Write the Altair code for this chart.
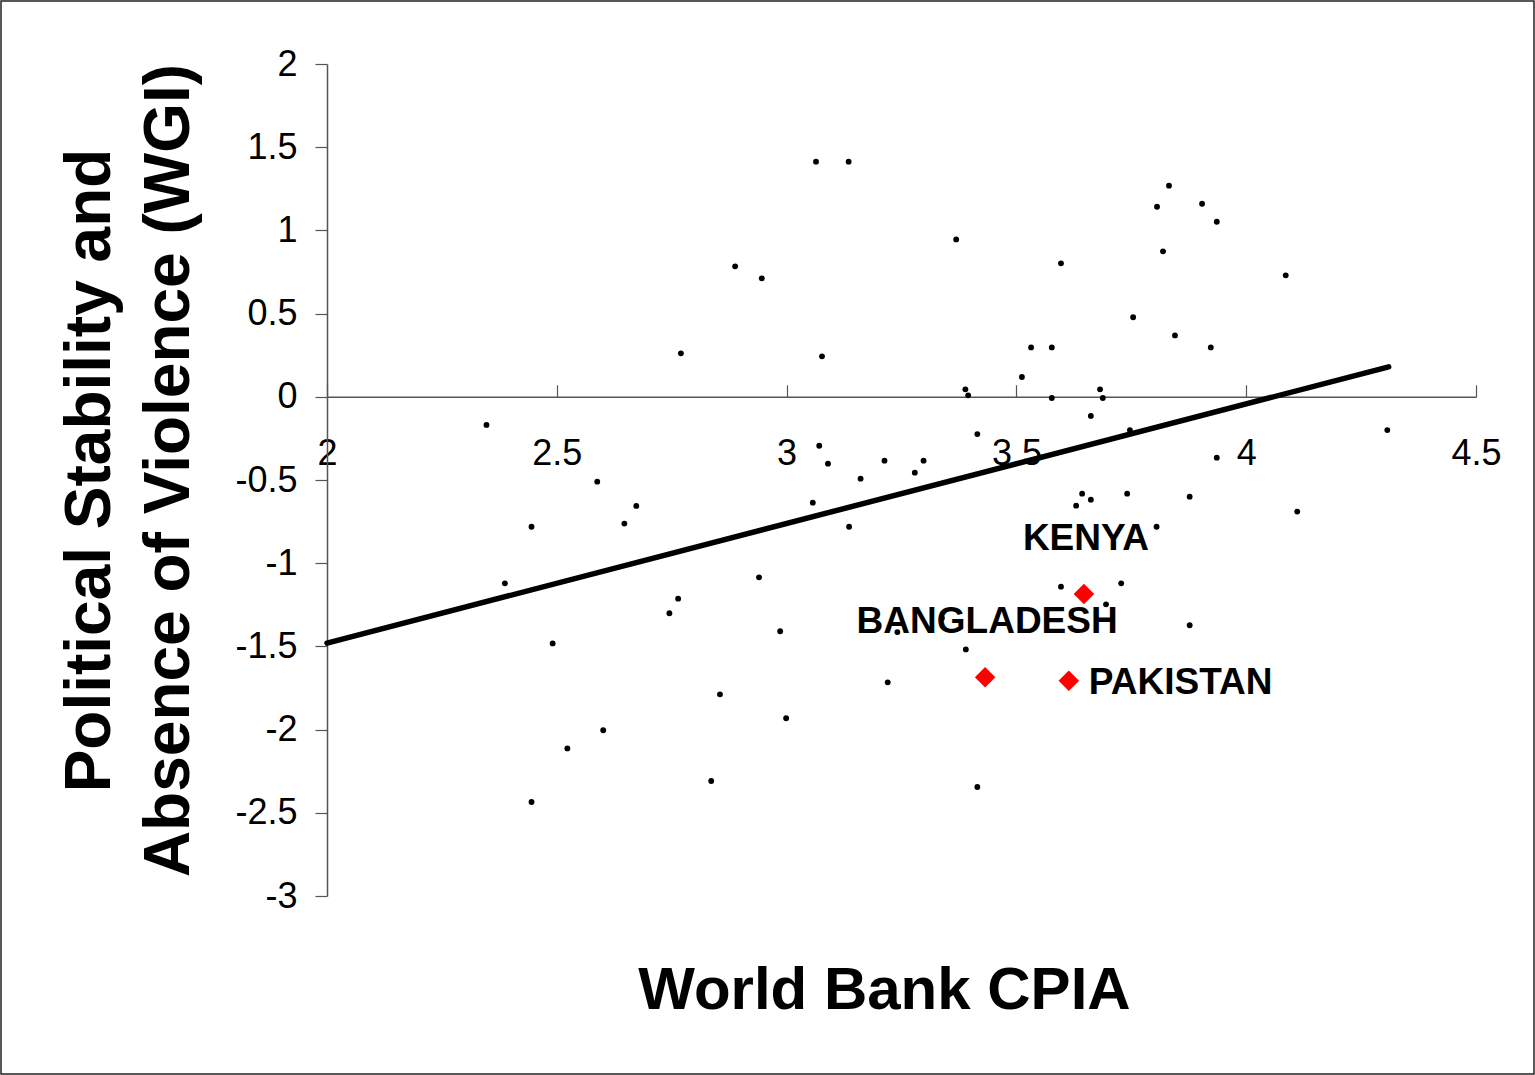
import altair as alt
import pandas as pd

# CPIA score (x) and WGI political-stability score (y) for each country
cpia = [2.770, 2.347, 3.064, 3.135, 3.369, 3.597, 2.888, 2.946, 3.077, 3.532,
        3.577, 3.512, 3.389, 3.395, 3.577, 3.662, 3.682, 3.832, 3.806, 3.904,
        3.936, 3.819, 4.086, 3.754, 3.845, 3.923, 3.688, 3.747, 4.307, 2.588,
        2.673, 2.647, 2.445, 2.387, 2.764, 2.745, 2.491, 2.855, 3.415, 3.071,
        3.090, 3.213, 3.298, 3.279, 3.161, 3.057, 3.136, 3.643, 3.662, 3.630,
        2.940, 3.597, 2.986, 3.390, 3.220, 3.936, 3.741, 3.877, 4.111, 3.805,
        3.728, 3.695, 3.877, 2.601, 2.523, 2.445, 2.836, 2.999, 3.415, 3.241,
        3.338]
wgi = [0.261, -0.169, 1.413, 1.413, 0.946, 0.802, 0.784, 0.712, 0.243, 0.297,
       0.297, 0.119, 0.045, 0.009, -0.007, -0.115, 0.045, 1.269, 1.142, 1.160,
       1.052, 0.874, 0.730, 0.478, 0.369, 0.297, -0.007, -0.200, -0.200, -0.510,
       -0.656, -0.762, -0.781, -1.121, -1.213, -1.301, -1.482, -1.788, -0.224, -0.294,
       -0.402, -0.384, -0.384, -0.456, -0.492, -0.636, -0.781, -0.582, -0.618, -0.654,
       -1.085, -1.141, -1.409, -1.518, -1.716, -0.366, -0.582, -0.600, -0.690, -0.781,
       -1.121, -1.247, -1.373, -2.004, -2.113, -2.435, -2.309, -1.932, -2.345, -1.414,
       -1.330]

# highlighted countries
hl_country = ["KENYA", "BANGLADESH", "PAKISTAN"]
hl_cpia = [3.647, 3.432, 3.614]
hl_wgi = [-1.185, -1.686, -1.706]

# linear trend line end points
trend_cpia = [2.0, 4.31]
trend_wgi = [-1.48, 0.18]

x_ticks = [2, 2.5, 3, 3.5, 4, 4.5]
y_ticks = [2, 1.5, 1, 0.5, 0, -0.5, -1, -1.5, -2, -2.5, -3]

W, H = 1149, 832
FONT = "Liberation Sans"
AXIS_GREY = "#555555"

points = pd.DataFrame({"cpia": cpia, "wgi": wgi})
highlights = pd.DataFrame({"country": hl_country, "cpia": hl_cpia, "wgi": hl_wgi})
trend = pd.DataFrame({"cpia": trend_cpia, "wgi": trend_wgi})

x_scale = alt.Scale(domain=[2, 4.5], nice=False, zero=False)
y_scale = alt.Scale(domain=[-3, 2], nice=False, zero=False)

# x axis crosses the y axis at 0: place it inside the plot with a negative offset
x_axis = alt.Axis(
    orient="top", offset=-H * 2 / 5, values=x_ticks, grid=False,
    domainColor=AXIS_GREY, domainWidth=1.5, tickColor=AXIS_GREY, tickWidth=1.2,
    tickSize=12, labelFont=FONT, labelFontSize=36, labelColor="black",
    labelPadding=-80, labelBaseline="alphabetic", labelAlign="center",
    labelFlush=False, labelOverlap=False, labelExpr="'' + datum.value",
    title="World Bank CPIA", titleFont=FONT, titleFontSize=60,
    titleFontWeight="bold", titleColor="black", titleX=557, titleY=612,
    titleAlign="center", titleBaseline="alphabetic",
)
y_axis = alt.Axis(
    orient="left", values=y_ticks, grid=False,
    domainColor=AXIS_GREY, domainWidth=1.5, tickColor=AXIS_GREY, tickWidth=1.2,
    tickSize=12, labelFont=FONT, labelFontSize=36, labelColor="black",
    labelPadding=18, labelBaseline="middle", labelOverlap=False,
    labelExpr="'' + datum.value",
    title=["Political Stability and", "Absence of Violence (WGI)"],
    titleFont=FONT, titleFontSize=64, titleFontWeight="bold", titleColor="black",
    titleAngle=270, titleX=-218, titleY=406, titleAlign="center",
    titleBaseline="alphabetic", titleLineHeight=79,
)

dots = alt.Chart(points).mark_circle(size=34, color="black", opacity=1).encode(
    x=alt.X("cpia:Q", scale=x_scale, axis=x_axis),
    y=alt.Y("wgi:Q", scale=y_scale, axis=y_axis),
)

line = alt.Chart(trend).mark_line(color="black", strokeWidth=5.5, strokeCap="round").encode(
    x=alt.X("cpia:Q", scale=x_scale),
    y=alt.Y("wgi:Q", scale=y_scale),
)

diamonds = alt.Chart(highlights).mark_point(
    shape="diamond", filled=True, size=420, color="#ff0000", opacity=1
).encode(
    x=alt.X("cpia:Q", scale=x_scale),
    y=alt.Y("wgi:Q", scale=y_scale),
)

label_style = dict(font=FONT, fontSize=37, fontWeight="bold", color="black")

labels_above = alt.Chart(highlights).transform_filter(
    alt.FieldOneOfPredicate(field="country", oneOf=["KENYA", "BANGLADESH"])
).mark_text(align="center", baseline="alphabetic", dx=2, dy=-44, **label_style).encode(
    x=alt.X("cpia:Q", scale=x_scale),
    y=alt.Y("wgi:Q", scale=y_scale),
    text="country:N",
)

labels_right = alt.Chart(highlights).transform_filter(
    alt.FieldEqualPredicate(field="country", equal="PAKISTAN")
).mark_text(align="left", baseline="alphabetic", dx=20, dy=13, **label_style).encode(
    x=alt.X("cpia:Q", scale=x_scale),
    y=alt.Y("wgi:Q", scale=y_scale),
    text="country:N",
)

# thin frame around the whole figure
frame = alt.Chart(pd.DataFrame({"k": [0]})).mark_rect(
    fillOpacity=0, stroke="#222222", strokeWidth=1.5
).encode(
    x=alt.value(-326), x2=alt.value(1535 - 327 - 1),
    y=alt.value(-63), y2=alt.value(1075 - 64 - 1),
)

chart = alt.layer(dots, line, diamonds, labels_above, labels_right, frame).properties(
    width=W, height=H,
    autosize=alt.AutoSizeParams(type="none"),
    padding={"left": 327, "top": 64, "right": 1535 - 327 - W, "bottom": 1075 - 64 - H},
    background="white",
).configure_view(stroke=None)

chart.save("out.html", embed_options={"renderer": "svg", "actions": False})
